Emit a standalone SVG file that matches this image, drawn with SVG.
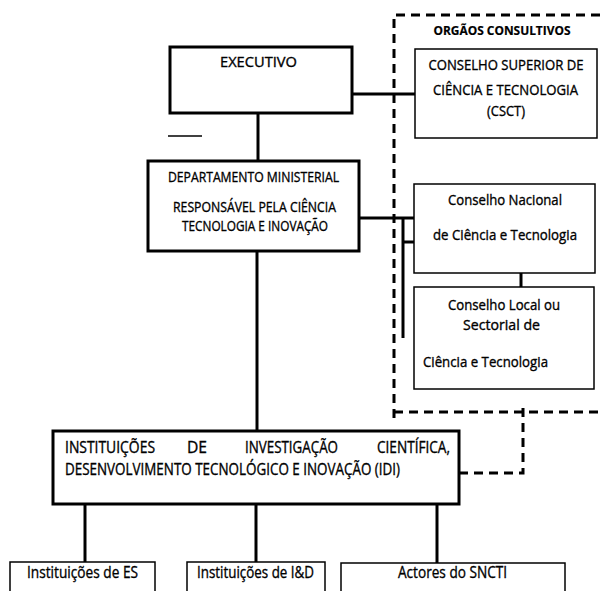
<svg xmlns="http://www.w3.org/2000/svg" width="600" height="591" viewBox="0 0 600 591">
<style>
.thick{fill:#fff;stroke:#000;stroke-width:3}
.thin{fill:#fff;stroke:#000;stroke-width:1.5}
.ln{stroke:#000;stroke-width:3;fill:none}
.dash{stroke:#000;stroke-width:3;fill:none;stroke-dasharray:9 6}
text{font-family:"Open Sans",Lato,"Liberation Sans",sans-serif;font-size:14.5px;fill:#000;stroke:#000;stroke-width:0.35}
.c{text-anchor:middle}
.s{font-size:14px}
.b{font-weight:bold;font-size:12.5px;stroke-width:0.2}
.m{font-size:16px}
</style>
<rect width="600" height="591" fill="#fff"/>
<g id="connectors">
<line class="ln" x1="258" y1="113" x2="258" y2="161"/>
<line class="ln" x1="352" y1="94" x2="415" y2="94"/>
<line class="ln" x1="257" y1="251" x2="257" y2="431"/>
<line class="ln" x1="359" y1="218" x2="414" y2="218"/>
<line class="ln" x1="403" y1="218" x2="403" y2="338"/>
<line class="ln" x1="403" y1="242" x2="414" y2="242"/>
<line class="ln" x1="521" y1="273" x2="521" y2="287"/>
<line class="ln" x1="85" y1="504" x2="85" y2="562"/>
<line class="ln" x1="256" y1="504" x2="256" y2="562"/>
<line class="ln" x1="437" y1="504" x2="437" y2="563"/>
<path class="dash" d="M459 473 H523 V406"/>
<line x1="168" y1="136" x2="202" y2="136" stroke="#000" stroke-width="1.5"/>
</g>
<g id="orgaos-consultivos">
<path class="dash" d="M394 418 V15 H600"/>
<path class="dash" d="M394 412 H600"/>
<text class="b c" x="502" y="35" textLength="137" lengthAdjust="spacingAndGlyphs">ORGÃOS CONSULTIVOS</text>
</g>
<g id="executivo">
<rect class="thick" x="170" y="47" width="182" height="66"/>
<text class="c" x="258.5" y="67" textLength="77" lengthAdjust="spacingAndGlyphs">EXECUTIVO</text>
</g>
<g id="csct">
<rect class="thin" x="415" y="49" width="182" height="89"/>
<text class="c s" x="506" y="70" textLength="155" lengthAdjust="spacingAndGlyphs">CONSELHO SUPERIOR DE</text>
<text class="c s" x="505.5" y="95" textLength="145" lengthAdjust="spacingAndGlyphs">CIÊNCIA E TECNOLOGIA</text>
<text class="c s" x="506" y="116" textLength="38" lengthAdjust="spacingAndGlyphs">(CSCT)</text>
</g>
<g id="departamento">
<rect class="thick" x="148" y="161" width="211" height="90"/>
<text class="c" x="253.5" y="182" textLength="171" lengthAdjust="spacingAndGlyphs">DEPARTAMENTO MINISTERIAL</text>
<text class="c s" x="254.5" y="212" textLength="163" lengthAdjust="spacingAndGlyphs">RESPONSÁVEL PELA CIÊNCIA</text>
<text class="c s" x="255" y="231" textLength="146" lengthAdjust="spacingAndGlyphs">TECNOLOGIA E INOVAÇÃO</text>
</g>
<g id="conselho-nacional">
<rect class="thin" x="414" y="184" width="181" height="89"/>
<text class="c" x="505" y="205" textLength="114" lengthAdjust="spacingAndGlyphs">Conselho Nacional</text>
<text class="c" x="505" y="240" textLength="144" lengthAdjust="spacingAndGlyphs">de Ciência e Tecnologia</text>
</g>
<g id="conselho-local">
<rect class="thin" x="414" y="287" width="180" height="102"/>
<text class="c" x="504" y="310" textLength="112" lengthAdjust="spacingAndGlyphs">Conselho Local ou</text>
<text class="c" x="501.5" y="330" textLength="77" lengthAdjust="spacingAndGlyphs">Sectorial de</text>
<text x="423" y="367" textLength="125" lengthAdjust="spacingAndGlyphs">Ciência e Tecnologia</text>
</g>
<g id="idi">
<rect class="thick" x="53" y="431" width="406" height="73"/>
<text class="m" x="65" y="453" textLength="90" lengthAdjust="spacingAndGlyphs">INSTITUIÇÕES</text>
<text class="m" x="187" y="453" textLength="20" lengthAdjust="spacingAndGlyphs">DE</text>
<text class="m" x="245" y="453" textLength="93" lengthAdjust="spacingAndGlyphs">INVESTIGAÇÃO</text>
<text class="m" x="377" y="453" textLength="73" lengthAdjust="spacingAndGlyphs">CIENTÍFICA,</text>
<text class="m" x="65" y="475" textLength="335" lengthAdjust="spacingAndGlyphs">DESENVOLVIMENTO TECNOLÓGICO E INOVAÇÃO (IDI)</text>
</g>
<g id="instituicoes-es">
<rect class="thin" x="10" y="562" width="145" height="40"/>
<text class="m" x="27" y="578" textLength="111" lengthAdjust="spacingAndGlyphs">Instituições de ES</text>
</g>
<g id="instituicoes-id">
<rect class="thin" x="187" y="562" width="138" height="40"/>
<text class="m" x="197" y="578" textLength="117" lengthAdjust="spacingAndGlyphs">Instituições de I&amp;D</text>
</g>
<g id="actores">
<rect class="thin" x="341" y="563" width="224" height="40"/>
<text class="m" x="398" y="578" textLength="109" lengthAdjust="spacingAndGlyphs">Actores do SNCTI</text>
</g>
</svg>
